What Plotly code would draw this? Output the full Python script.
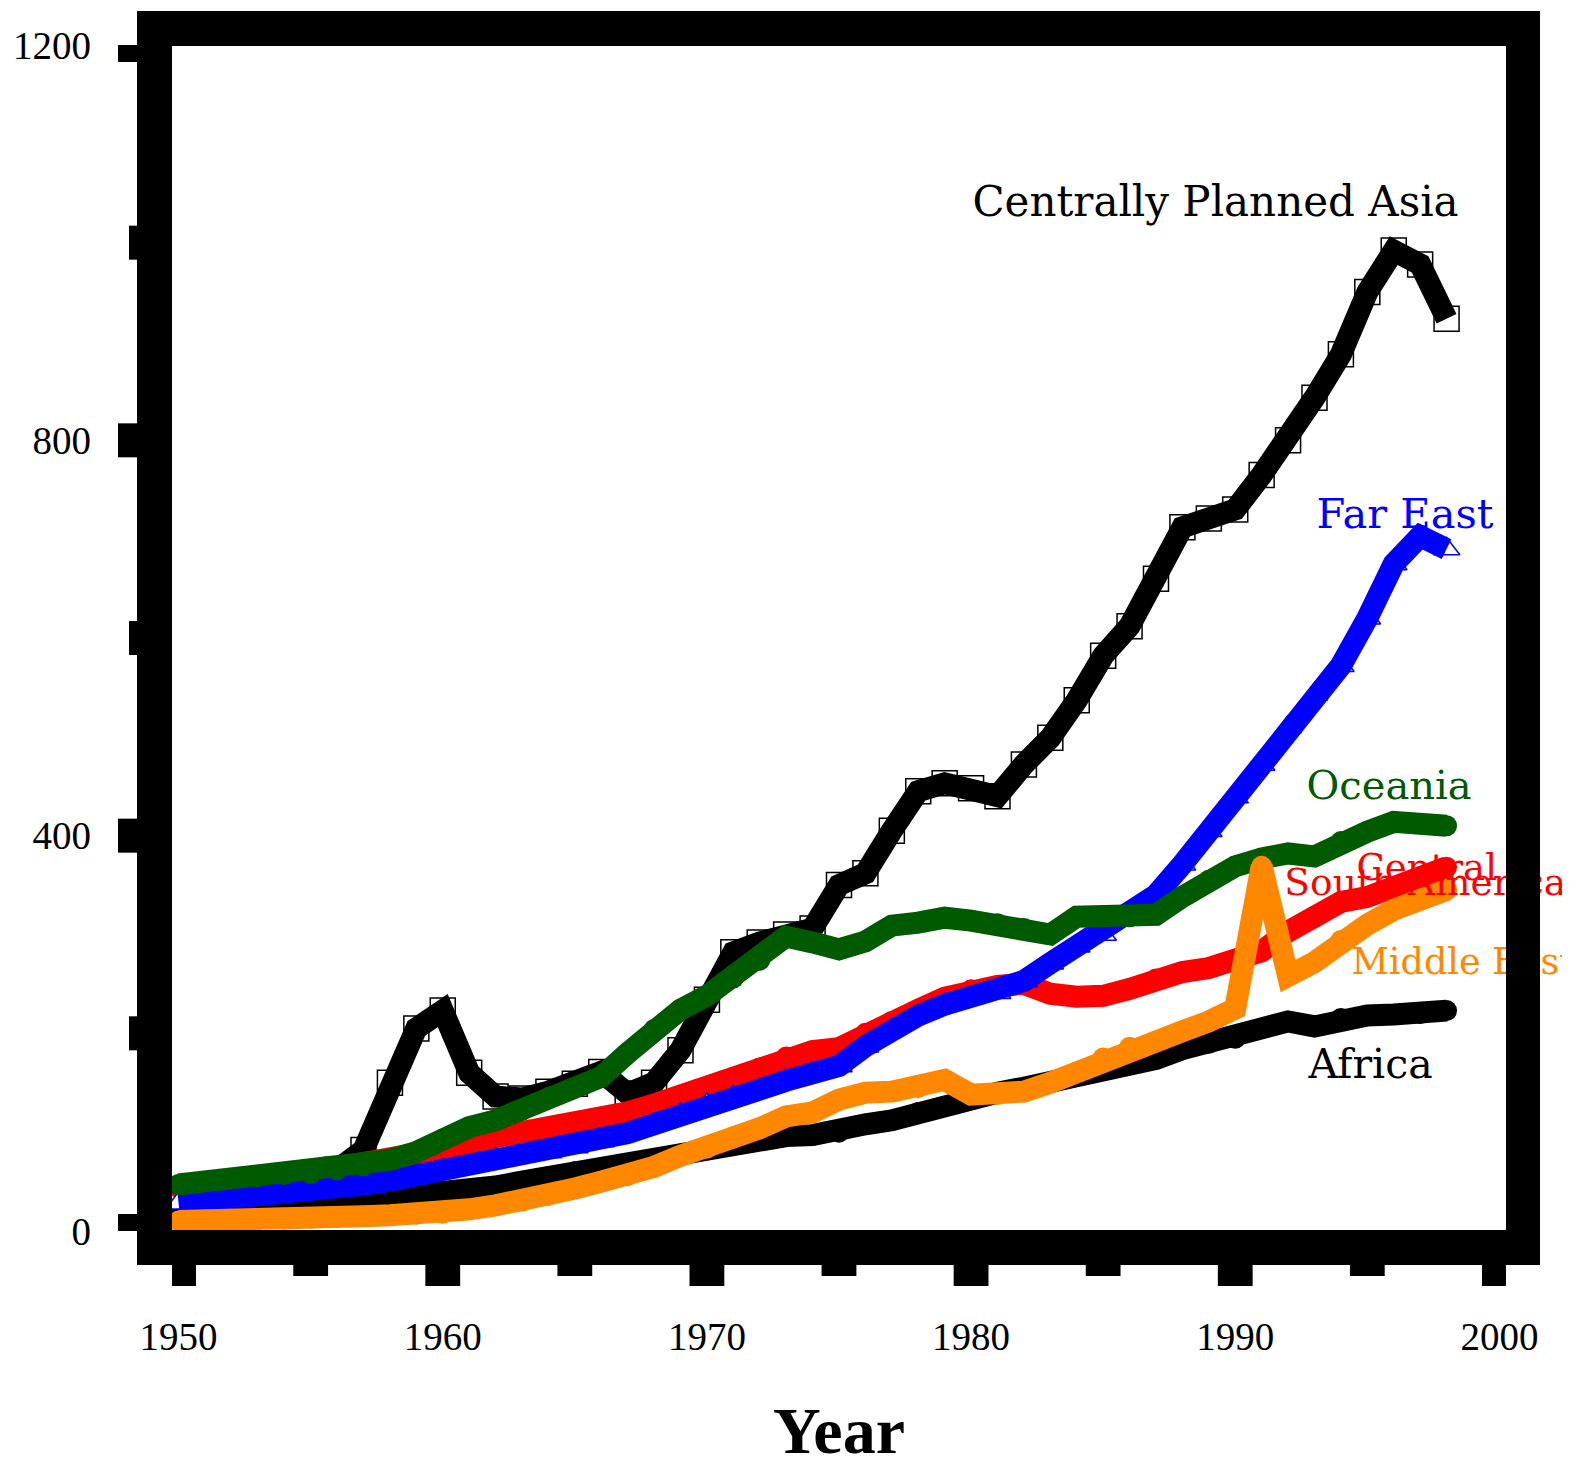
import plotly.graph_objects as go

# ---------------- data ----------------
years = [1950, 1951, 1952, 1953, 1954, 1955, 1956, 1957, 1958, 1959,
         1960, 1961, 1962, 1963, 1964, 1965, 1966, 1967, 1968, 1969,
         1970, 1971, 1972, 1973, 1974, 1975, 1976, 1977, 1978, 1979,
         1980, 1981, 1982, 1983, 1984, 1985, 1986, 1987, 1988, 1989,
         1990, 1991, 1992, 1993, 1994, 1995, 1996, 1997, 1998]

centrally_planned_asia = [40, 42, 45, 48, 52, 56, 62, 82, 150, 205,
                          223, 160, 136, 134, 141, 149, 161, 139, 150, 183,
                          234, 282, 292, 300, 306, 350, 362, 405, 445, 453,
                          448, 440, 472, 499, 537, 582, 612, 660, 712, 721,
                          730, 765, 800, 843, 887, 950, 992, 978, 923]

far_east = [28, 30, 32, 34, 37, 40, 43, 47, 51, 56,
            62, 67, 72, 76, 80, 85, 91, 99, 108, 118,
            128, 136, 143, 152, 160, 167, 187, 204, 218, 229,
            236, 241, 253, 271, 288, 300, 318, 340, 371, 405,
            439, 472, 510, 543, 572, 620, 675, 703, 690]

oceania = [47, 50, 53, 55, 57, 58, 62, 66, 72, 80,
           93, 105, 112, 122, 135, 145, 156, 180, 204, 224,
           238, 256, 274, 298, 292, 285, 293, 309, 312, 317,
           314, 311, 306, 300, 318, 318, 318, 320, 338, 355,
           369, 377, 382, 379, 394, 404, 414, 412, 410]

central_south_america = [44, 46, 48, 51, 55, 59, 64, 68, 72, 76,
                         80, 88, 95, 100, 105, 108, 112, 120, 128, 137,
                         145, 155, 165, 176, 182, 185, 200, 212, 224, 236,
                         244, 248, 250, 240, 237, 238, 245, 255, 262, 266,
                         272, 283, 303, 317, 333, 338, 348, 357, 368]

middle_east = [10, 10, 10, 11, 12, 13, 14, 15, 16, 17,
               18, 22, 26, 30, 36, 43, 50, 56, 65, 76,
               84, 94, 104, 116, 120, 133, 140, 141, 145, 153,
               138, 138, 141, 150, 161, 175, 186, 192, 202, 212,
               225, 369, 258, 272, 294, 310, 325, 335, 345]

africa = [20, 21, 22, 24, 26, 28, 30, 32, 34, 36,
          38, 41, 45, 50, 55, 60, 62, 66, 72, 78,
          84, 88, 92, 96, 97, 100, 108, 112, 120, 126,
          135, 140, 145, 150, 157, 165, 170, 174, 184, 190,
          195, 205, 212, 207, 215, 218, 219, 220, 223]

x_ticks = [1950, 1960, 1970, 1980, 1990, 2000]
x_minor = [1955, 1965, 1975, 1985, 1995]
y_ticks = [0, 400, 800, 1200]
y_minor = [200, 600, 1000]

label_text = ["Centrally Planned Asia", "Far East", "Oceania", "Central",
              "South America", "Middle East", "Africa"]
label_x = [1980.05, 1993.08, 1992.70, 1994.59, 1991.86, 1994.40, 1992.77]
label_y = [1038, 722, 447, 365, 349, 269, 165]
label_size = [42, 41.5, 40, 37, 37.5, 36.5, 41]

# ---------------- styling ----------------
GREEN = "#005a00"
ORANGE = "#ff8800"
label_color = ["black", "blue", GREEN, "red", "red", ORANGE, "black"]

OFF = 8                      # page body margin
W, H = 1562, 1450            # figure size (fits the 1570x1458 window)
L, R, T, B = 164, 64, 37, 227
PW, PH = W - L - R, H - T - B
XR = [1949.75, 2000.25]
YR = [0, 1200]
XS = PW / (XR[1] - XR[0])   # px per year
YS = PH / (YR[1] - YR[0])   # px per unit


def pxp(x):
    """page pixel x -> paper coordinate"""
    return (x - OFF - L) / PW


def pyp(y):
    """page pixel y -> paper coordinate"""
    return (H - B - (y - OFF)) / PH


LW = 22
fig = go.Figure()


def thick(y, color, name):
    # thick line with same-coloured round dots for rounded joins/ends
    fig.add_trace(go.Scatter(x=years, y=y, mode="lines+markers",
                             line=dict(color=color, width=LW),
                             marker=dict(symbol="circle", size=LW - 1, color=color,
                                         line=dict(width=0)),
                             name=name, showlegend=False))


# CPA markers beneath its line
fig.add_trace(go.Scatter(x=years, y=centrally_planned_asia, mode="markers",
                         marker=dict(symbol="square", size=25, color="white",
                                     line=dict(color="black", width=1.5)),
                         hoverinfo="skip", showlegend=False))
fig.add_trace(go.Scatter(x=years, y=centrally_planned_asia, mode="lines",
                         line=dict(color="black", width=LW),
                         name="Centrally Planned Asia", showlegend=False))
thick(africa, "black", "Africa")
thick(central_south_america, "red", "Central South America")
fig.add_trace(go.Scatter(x=years, y=far_east, mode="markers",
                         marker=dict(symbol="triangle-up", size=23, color="white",
                                     line=dict(color="blue", width=1.5)),
                         hoverinfo="skip", showlegend=False))
fig.add_trace(go.Scatter(x=years, y=far_east, mode="lines",
                         line=dict(color="blue", width=LW),
                         name="Far East", showlegend=False))
thick(oceania, GREEN, "Oceania")
thick(middle_east, ORANGE, "Middle East")

# region labels (under the frame, so the frame hides overflow)
fig.add_trace(go.Scatter(x=label_x, y=label_y, mode="text", text=label_text,
                         textposition="middle right", cliponaxis=False,
                         textfont=dict(family="DejaVu Serif", size=label_size,
                                       color=label_color),
                         hoverinfo="skip", showlegend=False))

shapes = []
# thick frame
frame = [(137, 11, 172, 1265), (1506, 11, 1540, 1265),
         (137, 11, 1540, 46), (137, 1230, 1540, 1265)]
for x0, y0, x1, y1 in frame:
    shapes.append(dict(type="rect", xref="paper", yref="paper",
                       x0=pxp(x0), x1=pxp(x1), y0=pyp(y1), y1=pyp(y0),
                       fillcolor="black", line=dict(width=0), layer="above"))
# y ticks
for v in y_ticks:
    shapes.append(dict(type="rect", xref="paper", yref="y",
                       x0=pxp(118), x1=pxp(138), y0=v - 17 / YS, y1=v + 17 / YS,
                       fillcolor="black", line=dict(width=0), layer="above"))
for v in y_minor:
    shapes.append(dict(type="rect", xref="paper", yref="y",
                       x0=pxp(129), x1=pxp(138), y0=v - 17 / YS, y1=v + 17 / YS,
                       fillcolor="black", line=dict(width=0), layer="above"))
# x ticks
for t in x_ticks:
    shapes.append(dict(type="rect", xref="x", yref="paper",
                       x0=t - 17.4 / XS, x1=t + 17.4 / XS, y0=pyp(1286), y1=pyp(1264),
                       fillcolor="black", line=dict(width=0), layer="above"))
for t in x_minor:
    shapes.append(dict(type="rect", xref="x", yref="paper",
                       x0=t - 17.4 / XS, x1=t + 17.4 / XS, y0=pyp(1276), y1=pyp(1264),
                       fillcolor="black", line=dict(width=0), layer="above"))

tickfont = dict(family="Liberation Serif", size=39, color="black")

fig.update_layout(
    width=W, height=H,
    margin=dict(l=L, r=R, t=T, b=B, pad=0),
    paper_bgcolor="white", plot_bgcolor="white",
    showlegend=False, hovermode=False,
    shapes=shapes,
    xaxis=dict(range=XR, tickvals=x_ticks, ticktext=[str(t) for t in x_ticks],
               ticks="", showline=False, showgrid=False, zeroline=False,
               tickfont=tickfont, ticklabelstandoff=79, automargin=False,
               fixedrange=True),
    yaxis=dict(range=YR, tickvals=y_ticks, ticktext=[str(v) for v in y_ticks],
               ticks="", showline=False, showgrid=False, zeroline=False,
               tickfont=tickfont, ticklabelstandoff=80, automargin=False,
               fixedrange=True),
    annotations=[dict(text="<b>Year</b>", xref="paper", yref="paper",
                      x=pxp(839), y=pyp(1430), xanchor="center", yanchor="middle",
                      showarrow=False,
                      font=dict(family="Liberation Serif", size=66, color="black"))],
)

fig.write_html("out.html")
